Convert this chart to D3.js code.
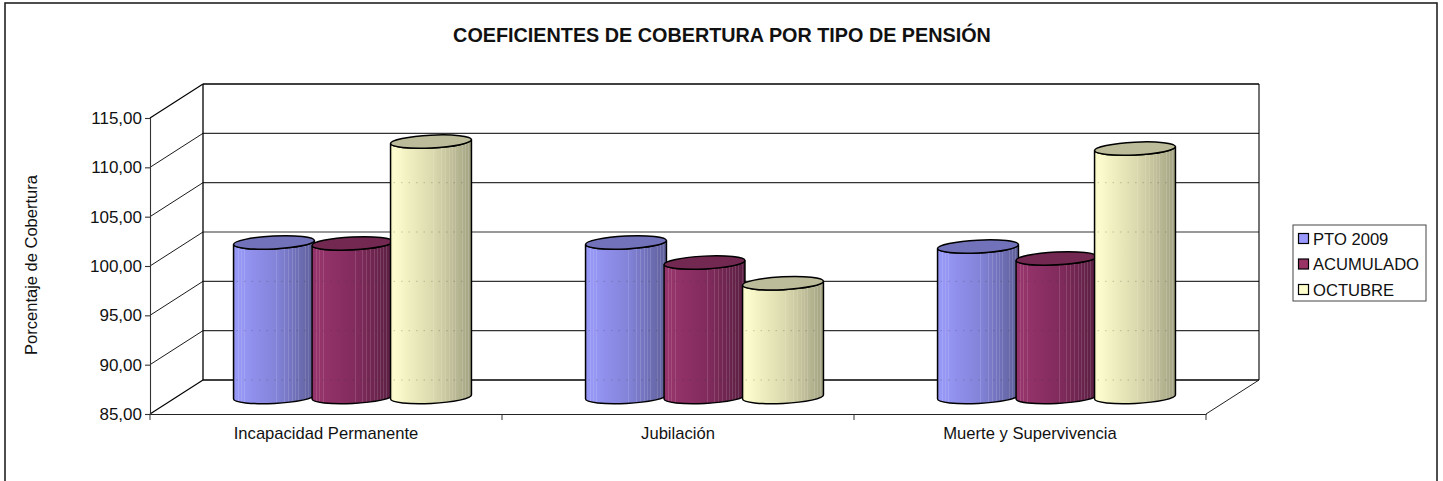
<!DOCTYPE html>
<html><head><meta charset="utf-8">
<script src="https://cdn.jsdelivr.net/npm/d3@7/dist/d3.min.js"></script>
<style>html,body{margin:0;padding:0;background:#fff;overflow:hidden}svg{display:block}text{font-family:"Liberation Sans",Arial,sans-serif;fill:#111}</style>
</head><body><svg id="c" width="1443" height="481"></svg>
<script>
const categories = ["Incapacidad Permanente","Jubilación","Muerte y Supervivencia"];
const seriesNames = ["PTO 2009","ACUMULADO","OCTUBRE"];
const pto2009 = [100.66,100.66,100.25];
const acumulado = [100.56,98.63,99.04];
const octubre = [110.89,96.53,110.18];
const yTicks = [85,90,95,100,105,110,115];
const seriesValues = [pto2009,acumulado,octubre];

const bodyLeft = ["#9a9afa","#99356e","#ffffcf"];
const bodyMid  = ["#8585dd","#852c5f","#dedcb0"];
const bodyRight= ["#5f5f9a","#5a1f42","#a3a383"];
const topFill  = ["#7272bb","#722850","#bcbc9a"];
const swatch   = ["#9999ff","#993366","#ffffcc"];
const stripeAt = [.05,.09,.13,.53,.62,.67,.72,.76,.8,.84,.88,.92,.96];

const svg = d3.select("#c");
const depthX = 53, depthY = -34;
const x0 = d3.scaleBand().domain(categories).range([150,1206]);
const y = d3.scaleLinear().domain([85,115]).range([414,118]);
const x1 = d3.scalePoint().domain(seriesNames).range([-78.5,78.5]);
const color = d3.scaleOrdinal().domain(seriesNames).range(swatch);
const fmt = v => d3.format(".2f")(v).replace(".",",");
const xL = x0.range()[0], xR = x0.range()[1];
const ff = '"Liberation Sans",Arial,sans-serif';

svg.append("rect").attr("x",5).attr("y",3).attr("width",1432).attr("height",520)
  .attr("fill","#fff").attr("stroke","#222").attr("stroke-width",1.6);

svg.append("text").attr("x",722).attr("y",42).attr("text-anchor","middle")
  .attr("font-size",19.8).attr("font-weight","bold").text("COEFICIENTES DE COBERTURA POR TIPO DE PENSIÓN");

const wall = svg.append("g");
wall.selectAll(".g").data(yTicks).join("line")
  .attr("x1",xL+depthX).attr("x2",xR+depthX)
  .attr("y1",d=>y(d)+depthY).attr("y2",d=>y(d)+depthY)
  .attr("stroke",d=>d===85||d===115?"#000":"#333").attr("stroke-width",d=>d===85||d===115?1.4:1.1);
wall.selectAll(".s").data(yTicks).join("line")
  .attr("x1",xL).attr("x2",xL+depthX)
  .attr("y1",d=>y(d)).attr("y2",d=>y(d)+depthY)
  .attr("stroke","#000").attr("stroke-width",d=>d===85||d===115?1.2:.9);
wall.append("line").attr("x1",xL+depthX).attr("x2",xL+depthX).attr("y1",y(115)+depthY).attr("y2",y(85)+depthY).attr("stroke","#000").attr("stroke-width",1.3);
wall.append("line").attr("x1",xR+depthX).attr("x2",xR+depthX).attr("y1",y(115)+depthY).attr("y2",y(85)+depthY).attr("stroke","#000").attr("stroke-width",1.1);
wall.append("line").attr("x1",xR).attr("x2",xR+depthX).attr("y1",y(85)).attr("y2",y(85)+depthY).attr("stroke","#222").attr("stroke-width",1);

const yAxis = d3.axisLeft(y).tickValues(yTicks).tickFormat(fmt).tickSize(5).tickPadding(3);
const gy = svg.append("g").attr("transform",`translate(${xL},0)`).call(yAxis);
gy.selectAll("text").attr("font-size",17).style("font-family",ff);
gy.selectAll("line,path").attr("stroke","#333").attr("stroke-width",1.1);
const xAxis = d3.axisBottom(x0).tickSize(0).tickPadding(13);
const gx = svg.append("g").attr("transform",`translate(0,${y(85)})`).call(xAxis);
gx.selectAll("text").attr("font-size",16.6).style("font-family",ff);
gx.select("path").attr("stroke","#222").attr("stroke-width",1.1);
const seps = [...categories.map(c=>x0(c)), xR];
gx.selectAll(".sep").data(seps).join("line").attr("class","sep")
  .attr("x1",d=>d).attr("x2",d=>d).attr("y1",0).attr("y2",6).attr("stroke","#333");

svg.append("text").attr("transform","translate(37,265) rotate(-90)").attr("text-anchor","middle")
  .attr("font-size",16.5).text("Porcentaje de Cobertura");

const defs = svg.append("defs");
seriesNames.forEach((s,i)=>{
  const g = defs.append("linearGradient").attr("id","grad"+i).attr("x1",0).attr("x2",1).attr("y1",0).attr("y2",0);
  const base = t => t<.5 ? d3.interpolateRgb(bodyLeft[i],bodyMid[i])(t*2) : d3.interpolateRgb(bodyMid[i],bodyRight[i])((t-.5)*2);
  g.append("stop").attr("offset",0).attr("stop-color",d3.color(base(0)).darker(.15));
  g.append("stop").attr("offset",.04).attr("stop-color",base(.04));
  stripeAt.forEach(t=>{
    const lit = d3.interpolateRgb(base(t),"#fff")(.13);
    [[t,base(t)],[t,lit],[t+.012,lit],[t+.012,base(t+.012)]].forEach(([o,c])=>g.append("stop").attr("offset",o).attr("stop-color",c));
  });
  g.append("stop").attr("offset",1).attr("stop-color",base(1));
});

const rx = 40.5, ry = 6.4, tilt = -2.8;
const dx = rx*Math.cos(tilt*Math.PI/180), dy = rx*Math.sin(tilt*Math.PI/180);
const midOffsetX = depthX/2, midOffsetY = depthY/2;
const cyl = svg.append("g");
const items = [];
categories.forEach((c,ci)=>seriesNames.forEach((s,si)=>items.push({c,s,si,v:seriesValues[si][ci]})));
const groups = cyl.selectAll("g").data(items).join("g");
const cxOf = d => x0(d.c)+x0.bandwidth()/2+midOffsetX+x1(d.s);
groups.append("path")
  .attr("d",d=>{
    const cx=cxOf(d), t=y(d.v)+midOffsetY, b=y(85)+midOffsetY;
    return `M${cx-dx},${t-dy}L${cx-dx},${b-dy}A${rx},${ry} ${tilt} 0 0 ${cx+dx},${b+dy}L${cx+dx},${t+dy}A${rx},${ry} ${tilt} 0 1 ${cx-dx},${t-dy}Z`;
  })
  .attr("fill",d=>`url(#grad${d.si})`).attr("stroke","#000").attr("stroke-width",1.5);
groups.each(function(d){
  const cx=cxOf(d);
  d3.select(this).selectAll("line").data(yTicks.filter(t=>y(t)+depthY>y(d.v)+midOffsetY+ry && t<115)).join("line")
    .attr("x1",cx-dx+3).attr("x2",cx+dx-3).attr("y1",t=>y(t)+depthY).attr("y2",t=>y(t)+depthY)
    .attr("stroke","#333").attr("stroke-opacity",.25).attr("stroke-dasharray","1.5 6");
});
groups.append("ellipse")
  .attr("cx",cxOf).attr("cy",d=>y(d.v)+midOffsetY).attr("rx",rx).attr("ry",ry)
  .attr("transform",d=>`rotate(${tilt} ${cxOf(d)} ${y(d.v)+midOffsetY})`)
  .attr("fill",d=>topFill[d.si]).attr("stroke","#000").attr("stroke-width",1.5);

const lg = svg.append("g");
lg.append("rect").attr("x",1293).attr("y",225).attr("width",133).attr("height",76).attr("fill","#fff").attr("stroke","#444").attr("stroke-width",1);
const rowY = d3.scalePoint().domain(seriesNames).range([238.5,289.5]);
const rows = lg.selectAll(".row").data(seriesNames).join("g").attr("class","row");
rows.append("rect").attr("x",1298.5).attr("y",d=>rowY(d)-5).attr("width",10).attr("height",10)
  .attr("fill",d=>color(d)).attr("stroke","#000").attr("stroke-width",1.2);
rows.append("text").attr("x",1313).attr("y",d=>rowY(d)+6).attr("font-size",16.6).text(d=>d);
</script></body></html>
